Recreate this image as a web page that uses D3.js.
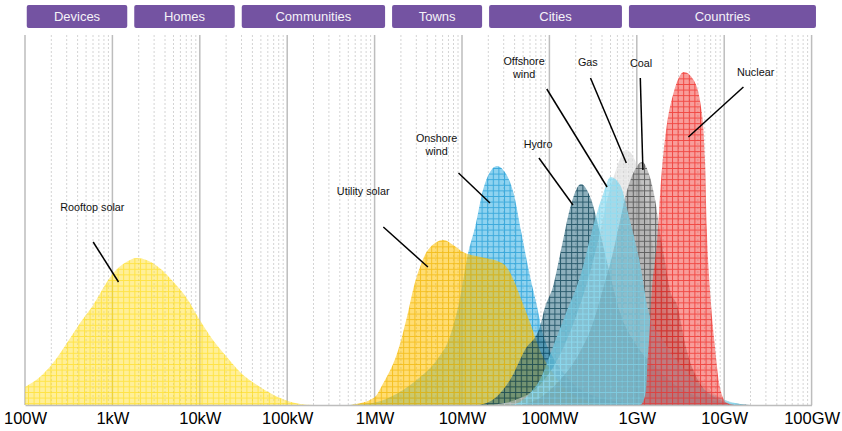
<!DOCTYPE html>
<html><head><meta charset="utf-8">
<script src="https://cdn.jsdelivr.net/npm/d3@7"></script>
<style>
html,body{margin:0;padding:0;background:#fff;}
svg{display:block;font-family:"Liberation Sans",Arial,sans-serif;}
</style></head>
<body><svg id="chart" width="842" height="431"></svg>
<script>
// ---- Data (x: log10 of capacity in watts, y: relative frequency) ----
const tickExponents = [2,3,4,5,6,7,8,9,10,11];
const tickLabels = ["100W","1kW","10kW","100kW","1MW","10MW","100MW","1GW","10GW","100GW"];
const scaleCategories = ["Devices","Homes","Communities","Towns","Cities","Countries"];
const scaleRanges = [[1.98,3.21],[3.21,4.44],[4.44,6.16],[6.16,7.27],[7.27,8.87],[8.87,11.09]];

const rooftopSolar = [[2.00,18],[2.17,28],[2.32,42],[2.48,62],[2.63,82],[2.78,100],[2.93,122],[3.01,132],[3.16,143],[3.28,147],[3.39,145],[3.54,137],[3.70,123],[3.85,107],[4.00,85],[4.15,65],[4.31,48],[4.46,33],[4.69,18],[4.92,7],[5.15,1],[5.30,0]];
const onshoreWind = [[5.70,0],[5.98,2],[6.18,8],[6.48,25],[6.71,45],[6.86,68],[6.98,108],[7.07,152],[7.15,178],[7.24,215],[7.32,233],[7.40,239],[7.49,233],[7.59,212],[7.68,172],[7.78,128],[7.85,102],[7.93,70],[8.04,48],[8.20,28],[8.35,16],[8.58,7],[8.92,2],[9.20,0]];
const utilitySolar = [[5.72,0],[5.99,7],[6.10,22],[6.27,55],[6.37,88],[6.46,122],[6.52,138],[6.61,155],[6.79,165],[6.90,160],[7.01,153],[7.21,148],[7.43,143],[7.51,138],[7.59,125],[7.68,105],[7.78,82],[7.89,55],[8.04,32],[8.20,15],[8.35,7],[8.58,1],[8.75,0]];
const hydro = [[7.20,0],[7.38,7],[7.55,25],[7.72,55],[7.89,78],[7.95,98],[8.04,118],[8.14,158],[8.24,198],[8.36,221],[8.48,205],[8.58,172],[8.69,132],[8.81,92],[8.98,62],[9.21,38],[9.49,17],[9.84,5],[10.18,1],[10.30,0]];
const offshoreWind = [[7.55,0],[7.66,3],[7.78,12],[7.89,25],[8.04,58],[8.19,92],[8.35,128],[8.52,185],[8.61,210],[8.70,228],[8.81,220],[8.92,185],[9.04,140],[9.13,95],[9.32,62],[9.55,35],[9.78,15],[10.01,5],[10.24,0]];
const gas = [[7.32,0],[7.61,5],[7.89,20],[8.12,50],[8.29,85],[8.44,125],[8.56,165],[8.66,205],[8.75,232],[8.88,255],[9.00,240],[9.09,205],[9.17,165],[9.27,125],[9.38,85],[9.55,50],[9.78,20],[10.01,5],[10.18,0]];
const coal = [[7.66,0],[7.89,7],[8.12,25],[8.33,50],[8.49,80],[8.61,115],[8.72,150],[8.81,185],[8.88,212],[8.96,232],[9.06,243],[9.15,228],[9.21,205],[9.27,170],[9.33,140],[9.38,115],[9.46,100],[9.57,55],[9.72,22],[9.95,5],[10.12,0]];
const nuclear = [[9.04,0],[9.08,5],[9.11,20],[9.12,40],[9.14,65],[9.17,112],[9.23,162],[9.28,228],[9.34,278],[9.42,312],[9.54,333],[9.65,325],[9.74,295],[9.78,245],[9.80,178],[9.84,112],[9.89,62],[9.95,18],[10.03,2],[10.12,0]];

// drawing order (back to front)
const seriesNames = ["Rooftop solar","Onshore wind","Utility solar","Hydro","Gas","Coal","Offshore wind","Nuclear"];
const seriesValues = [rooftopSolar,onshoreWind,utilitySolar,hydro,gas,coal,offshoreWind,nuclear];

// annotation: label lines, label centre, leader line start/end (data coords)
const annotations = [
  {text:["Rooftop solar"], at:[2.77,198], from:[2.78,163], to:[3.07,123]},
  {text:["Utility solar"], at:[5.87,214], from:[6.10,178], to:[6.61,138]},
  {text:["Onshore","wind"], at:[6.71,267], from:[6.96,232], to:[7.32,202]},
  {text:["Hydro"], at:[7.87,261], from:[7.88,247], to:[8.27,200]},
  {text:["Offshore","wind"], at:[7.71,344], from:[7.97,316], to:[8.66,218]},
  {text:["Gas"], at:[8.44,343], from:[8.47,327], to:[8.88,242]},
  {text:["Coal"], at:[9.05,342], from:[9.04,327], to:[9.07,235]},
  {text:["Nuclear"], at:[10.36,333], from:[10.22,318], to:[9.59,268]}
];

// ---- Styles ----
const styles = {
  "Rooftop solar": {bg:"#FFE033", bgOp:0.5, line:"#FFD800", lineOp:0.55},
  "Utility solar": {bg:"#FFC000", bgOp:0.55, line:"#F2B400", lineOp:0.7},
  "Onshore wind":  {bg:"#1FA7E1", bgOp:0.5, line:"#0F95D2", lineOp:0.65},
  "Hydro":         {bg:"#1B5F7A", bgOp:0.5, line:"#0F4358", lineOp:0.8},
  "Offshore wind": {bg:"#5CC8E8", bgOp:0.45, line:"#8ADCF2", lineOp:0.8},
  "Gas":           {bg:"#C8C8C8", bgOp:0.45, line:"#F2F2F2", lineOp:0.6},
  "Coal":          {bg:"#7A7A7A", bgOp:0.45, line:"#3A3A3A", lineOp:0.7},
  "Nuclear":       {bg:"#F23B36", bgOp:0.5, line:"#EE2520", lineOp:0.7}
};

const svg = d3.select("#chart");
const x = d3.scaleLog().domain([1e2,1e11]).range([25,811.6]);
const y = d3.scaleLinear().domain([0,340]).range([405,65]);
const px = L => x(Math.pow(10,L));

// patterns
const defs = svg.append("defs");
const cell = 5.6;
seriesNames.forEach((n,i)=>{
  const s = styles[n];
  const p = defs.append("pattern").attr("id","pat"+i).attr("patternUnits","userSpaceOnUse")
    .attr("width",cell).attr("height",cell);
  p.append("rect").attr("width",cell).attr("height",cell).attr("fill",s.bg).attr("fill-opacity",s.bgOp);
  p.append("path").attr("d",`M0,0.5H${cell}M0.5,0V${cell}`).attr("stroke",s.line)
    .attr("stroke-opacity",s.lineOp).attr("stroke-width",1).attr("fill","none");
});

// header boxes
const hdr = svg.append("g");
scaleCategories.forEach((c,i)=>{
  const x0 = px(scaleRanges[i][0])+3.5, x1 = px(scaleRanges[i][1])-3.5;
  hdr.append("rect").attr("x",x0).attr("y",5).attr("width",x1-x0).attr("height",23)
    .attr("rx",2).attr("fill","#7453A2");
  hdr.append("text").attr("x",(x0+x1)/2).attr("y",16.5).attr("dy","0.35em")
    .attr("text-anchor","middle").attr("fill","#F4F2F8").attr("font-size",13).text(c);
});

// gridlines
const grid = svg.append("g");
const gTop = 35, gBot = 405;
for (let d=2; d<=10; d++){
  for (let m=2; m<=9; m++){
    const v = m*Math.pow(10,d);
    grid.append("line").attr("x1",x(v)).attr("x2",x(v)).attr("y1",gTop).attr("y2",gBot)
      .attr("stroke","#D4D4D4").attr("stroke-width",1).attr("stroke-dasharray","2,2");
  }
}
tickExponents.forEach(e=>{
  const v = Math.pow(10,e);
  grid.append("line").attr("x1",x(v)).attr("x2",x(v)).attr("y1",gTop).attr("y2",gBot)
    .attr("stroke","#BDBDBD").attr("stroke-width",1.5);
});

// areas
const area = d3.area().x(d=>px(d[0])).y0(y(0)).y1(d=>y(d[1])).curve(d3.curveMonotoneX);
const areas = svg.append("g");
seriesValues.forEach((vals,i)=>{
  areas.append("path").datum(vals).attr("d",area).attr("fill",`url(#pat${i})`);
});

// axis
const axis = d3.axisBottom(x).tickValues(tickExponents.map(e=>Math.pow(10,e)))
  .tickFormat((d,i)=>tickLabels[i]).tickSize(0).tickPadding(7);
const ag = svg.append("g").attr("transform",`translate(0,${gBot})`).call(axis);
ag.select(".domain").attr("stroke","#BDBDBD").attr("stroke-width",1.5);
ag.selectAll("text").attr("font-size",16.5).attr("fill","#000")
  .attr("font-family","'Liberation Sans',Arial,sans-serif");

// annotations
const an = svg.append("g");
annotations.forEach(a=>{
  an.append("line").attr("x1",px(a.from[0])).attr("y1",y(a.from[1]))
    .attr("x2",px(a.to[0])).attr("y2",y(a.to[1])).attr("stroke","#000").attr("stroke-width",1.5);
  const t = an.append("text").attr("text-anchor","middle").attr("font-size",10.8).attr("fill","#111");
  a.text.forEach((s,k)=>{
    t.append("tspan").attr("x",px(a.at[0])).attr("y",y(a.at[1])+k*13.3).attr("dy","0.35em").text(s);
  });
});
</script></body></html>
